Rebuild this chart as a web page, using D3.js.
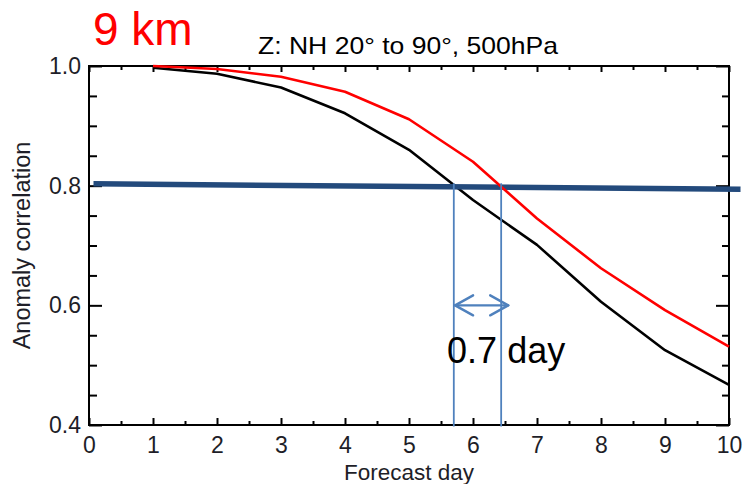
<!DOCTYPE html>
<html>
<head>
<meta charset="utf-8">
<script src="https://cdn.jsdelivr.net/npm/d3@7"></script>
<style>
  html, body { margin: 0; padding: 0; background: #fff; }
  svg { display: block; font-family: "Liberation Sans", Arial, sans-serif; }
</style>
</head>
<body>
<svg id="chart" width="743" height="484"></svg>
<script>
// Forecast days and anomaly correlation of 500 hPa height (NH 20°–90°)
const days = [1, 2, 3, 4, 5, 6, 7, 8, 9, 10];
const accReference = [0.997, 0.987, 0.964, 0.921, 0.860, 0.776, 0.701, 0.606, 0.525, 0.467];
const acc9km       = [1.000, 0.995, 0.982, 0.957, 0.911, 0.840, 0.745, 0.662, 0.592, 0.531];

// 0.8 skill threshold and the days where each run drops below it
const thresholdLine = [{ day: 0.07, acc: 0.803 }, { day: 10.18, acc: 0.794 }];
const crossDays = [5.70, 6.44];
const gapArrow = { from: 5.72, to: 6.55, acc: 0.6 };
const gapLabel = "0.7 day";

// Axis ticks
const xMajor = [0, 1, 2, 3, 4, 5, 6, 7, 8, 9, 10];
const xMinor = [0.5, 1.5, 2.5, 3.5, 4.5, 5.5, 6.5, 7.5, 8.5, 9.5];
const yMajor = [0.4, 0.6, 0.8, 1.0];
const yMinor = [0.45, 0.5, 0.55, 0.65, 0.7, 0.75, 0.85, 0.9, 0.95];

const svg = d3.select("#chart");
const m = { left: 89, right: 729, top: 66, bottom: 425 };

const x = d3.scaleLinear().domain([0, 10]).range([m.left, m.right]);
const y = d3.scaleLinear().domain([0.4, 1.0]).range([m.bottom, m.top]);

const fmtY = d3.format(".1f");

// Bottom axis with labels
svg.append("g").attr("transform", `translate(0,${m.bottom})`)
  .call(d3.axisBottom(x).tickValues(xMajor).tickSize(-7).tickPadding(12).tickFormat(d3.format("d")));
svg.append("g").attr("transform", `translate(0,${m.bottom})`)
  .call(d3.axisBottom(x).tickValues(xMinor).tickSize(-4).tickFormat(""));
// Top axis ticks
svg.append("g").attr("transform", `translate(0,${m.top})`)
  .call(d3.axisTop(x).tickValues(xMajor).tickSize(-6).tickFormat(""));
svg.append("g").attr("transform", `translate(0,${m.top})`)
  .call(d3.axisTop(x).tickValues(xMinor).tickSize(-4).tickFormat(""));
// Left axis with labels
svg.append("g").attr("transform", `translate(${m.left},0)`)
  .call(d3.axisLeft(y).tickValues(yMajor).tickSize(-13).tickPadding(8).tickFormat(fmtY));
svg.append("g").attr("transform", `translate(${m.left},0)`)
  .call(d3.axisLeft(y).tickValues(yMinor).tickSize(-8).tickFormat(""));
// Right axis ticks
svg.append("g").attr("transform", `translate(${m.right},0)`)
  .call(d3.axisRight(y).tickValues(yMajor).tickSize(-13).tickFormat(""));
svg.append("g").attr("transform", `translate(${m.right},0)`)
  .call(d3.axisRight(y).tickValues(yMinor).tickSize(-7).tickFormat(""));

svg.selectAll(".domain").remove();
svg.selectAll(".tick line").attr("stroke", "#000").attr("stroke-width", 2);
svg.selectAll(".tick text")
  .attr("font-family", "Liberation Sans, Arial, sans-serif")
  .attr("font-size", 23).attr("fill", "#1e1e28");

// Plot frame
svg.append("rect")
  .attr("x", x(0)).attr("y", y(1.0))
  .attr("width", x(10) - x(0)).attr("height", y(0.4) - y(1.0))
  .attr("fill", "none").attr("stroke", "#000").attr("stroke-width", 2);

const line = d3.line().x(d => x(d[0])).y(d => y(d[1]));

// Reference run (black)
svg.append("path")
  .datum(days.map((d, i) => [d, accReference[i]]))
  .attr("d", line).attr("fill", "none")
  .attr("stroke", "#000").attr("stroke-width", 2.6).attr("stroke-linejoin", "round");

// Threshold line
svg.append("path")
  .datum(thresholdLine.map(d => [d.day, d.acc]))
  .attr("d", line).attr("fill", "none")
  .attr("stroke", "#234a7c").attr("stroke-width", 5.5);

// 9 km run (red)
svg.append("path")
  .datum(days.map((d, i) => [d, acc9km[i]]))
  .attr("d", line).attr("fill", "none")
  .attr("stroke", "#ff0000").attr("stroke-width", 2.6).attr("stroke-linejoin", "round");

// Drop lines from the threshold crossings
const topAcc = 0.804;
svg.selectAll("line.cross").data(crossDays).enter().append("line")
  .attr("class", "cross")
  .attr("x1", d => x(d)).attr("x2", d => x(d))
  .attr("y1", y(topAcc)).attr("y2", y(0.4) + 1.5)
  .attr("stroke", "#4f81bd").attr("stroke-width", 1.8);

// Double-headed gap arrow
const ax1 = x(gapArrow.from), ax2 = x(gapArrow.to), ay = y(gapArrow.acc);
const head = 18, half = 10;
const arrow = svg.append("g").attr("fill", "none").attr("stroke", "#4f81bd")
  .attr("stroke-width", 2.4).attr("stroke-linecap", "round").attr("stroke-linejoin", "round");
arrow.append("line").attr("x1", ax1).attr("x2", ax2).attr("y1", ay).attr("y2", ay);
arrow.append("path").attr("d", `M${ax1 + head},${ay - half}L${ax1},${ay}L${ax1 + head},${ay + half}`);
arrow.append("path").attr("d", `M${ax2 - head},${ay - half}L${ax2},${ay}L${ax2 - head},${ay + half}`);

svg.append("text")
  .attr("x", ax1 - 8).attr("y", y(gapArrow.acc) + 58)
  .attr("font-size", 36).attr("fill", "#000")
  .text(gapLabel);

// Titles and axis labels
svg.append("text")
  .attr("x", 93).attr("y", 45)
  .attr("font-size", 46).attr("fill", "#ff0000")
  .text("9 km");

svg.append("text")
  .attr("x", 258).attr("y", 54)
  .attr("font-size", 24).attr("fill", "#000")
  .attr("textLength", 300).attr("lengthAdjust", "spacingAndGlyphs")
  .text("Z: NH 20° to 90°, 500hPa");

svg.append("text")
  .attr("x", (x(0) + x(10)) / 2).attr("y", 479.5)
  .attr("text-anchor", "middle")
  .attr("font-size", 22.5).attr("fill", "#1e1e28")
  .text("Forecast day");

svg.append("text")
  .attr("transform", `translate(30,${(y(0.4) + y(1.0)) / 2}) rotate(-90)`)
  .attr("text-anchor", "middle")
  .attr("font-size", 23.5).attr("fill", "#1e1e28")
  .text("Anomaly correlation");
</script>
</body>
</html>
